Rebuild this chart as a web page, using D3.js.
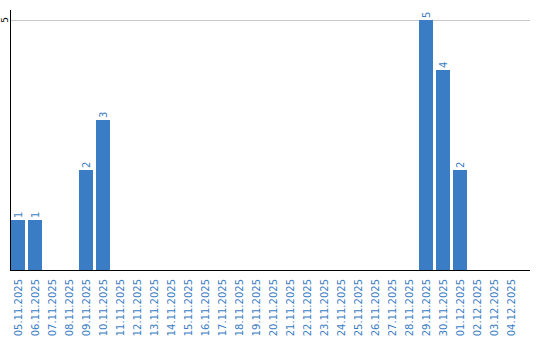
<!DOCTYPE html>
<html>
<head>
<meta charset="utf-8">
<script src="https://cdn.jsdelivr.net/npm/d3@7"></script>
<style>
  body { margin: 0; background: #fff; }
  text { font-family: "DejaVu Sans", sans-serif; }
</style>
</head>
<body>
<svg width="540" height="340"></svg>
<script>
let dates = ["05.11.2025", "06.11.2025", "07.11.2025", "08.11.2025", "09.11.2025",
  "10.11.2025", "11.11.2025", "12.11.2025", "13.11.2025", "14.11.2025",
  "15.11.2025", "16.11.2025", "17.11.2025", "18.11.2025", "19.11.2025",
  "20.11.2025", "21.11.2025", "22.11.2025", "23.11.2025", "24.11.2025",
  "25.11.2025", "26.11.2025", "27.11.2025", "28.11.2025", "29.11.2025",
  "30.11.2025", "01.12.2025", "02.12.2025", "03.12.2025", "04.12.2025"];
let counts = [1, 1, 0, 0, 2, 3, 0, 0, 0, 0, 0, 0, 0, 0, 0,
  0, 0, 0, 0, 0, 0, 0, 0, 0, 5, 4, 2, 0, 0, 0];
let yTicks = [5];

let blue = "#3b7dc4";
let svg = d3.select("svg");

let xScale = d3.scaleBand()
  .domain(dates)
  .range([11, 518])
  .paddingInner(3 / 17)
  .paddingOuter(0);

let yScale = d3.scaleLinear()
  .domain([0, 5])
  .range([270, 20]);

// grid lines
svg.selectAll(".grid")
  .data(yTicks)
  .enter().append("line")
  .attr("x1", 11).attr("x2", 530)
  .attr("y1", d => yScale(d) + 0.5).attr("y2", d => yScale(d) + 0.5)
  .attr("stroke", "#c8c8c8");

// y tick labels
svg.selectAll(".ylab")
  .data(yTicks)
  .enter().append("text")
  .attr("transform", d => `translate(8, ${yScale(d)}) rotate(-90)`)
  .attr("text-anchor", "middle")
  .attr("font-size", 9)
  .attr("fill", "#000")
  .text(d => d);

// bars
let data = dates.map((d, i) => ({date: d, n: counts[i]}));
svg.selectAll(".bar")
  .data(data.filter(d => d.n > 0))
  .enter().append("rect")
  .attr("x", d => xScale(d.date))
  .attr("width", xScale.bandwidth())
  .attr("y", d => yScale(d.n))
  .attr("height", d => yScale(0) - yScale(d.n))
  .attr("fill", blue);

// value labels
svg.selectAll(".val")
  .data(data.filter(d => d.n > 0))
  .enter().append("text")
  .attr("transform", d => `translate(${xScale(d.date) + xScale.bandwidth() / 2 + 3.5}, ${yScale(d.n) - 2}) rotate(-90)`)
  .attr("font-size", 10)
  .attr("fill", blue)
  .text(d => d.n);

// axes lines
svg.append("line")
  .attr("x1", 10.5).attr("x2", 10.5)
  .attr("y1", 10).attr("y2", 270)
  .attr("stroke", "#000");
svg.append("line")
  .attr("x1", 10).attr("x2", 530)
  .attr("y1", 270.5).attr("y2", 270.5)
  .attr("stroke", "#000");

// x labels
svg.selectAll(".xlab")
  .data(dates)
  .enter().append("text")
  .attr("transform", d => `translate(${xScale(d) + xScale.bandwidth() / 2 + 3.5}, 279) rotate(-90)`)
  .attr("text-anchor", "end")
  .attr("font-size", 10)
  .attr("fill", blue)
  .text(d => d);
</script>
</body>
</html>
